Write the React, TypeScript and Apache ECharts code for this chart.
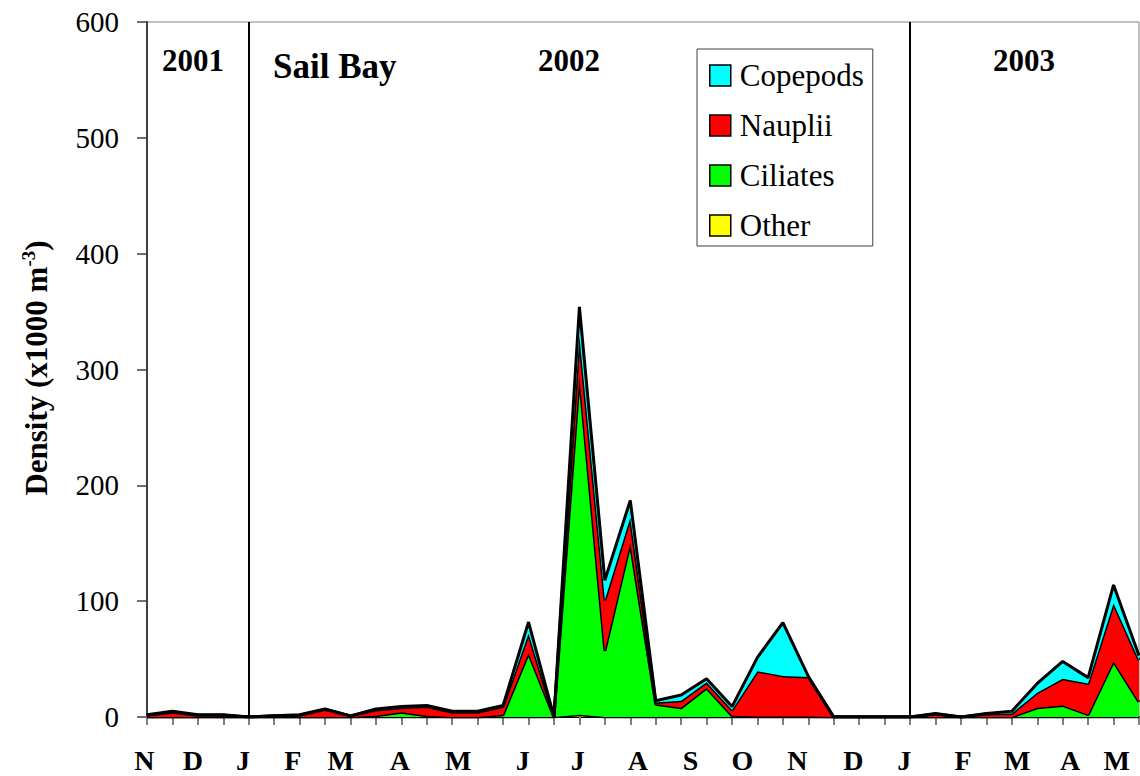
import React, { useEffect, useRef } from "react";
import * as echarts from "echarts";

// sampling occasions (Nov 2001 – May 2003, roughly fortnightly)
const samples = [
  "1", "2", "3", "4", "5", "6", "7", "8", "9", "10",
  "11", "12", "13", "14", "15", "16", "17", "18", "19", "20",
  "21", "22", "23", "24", "25", "26", "27", "28", "29", "30",
  "31", "32", "33", "34", "35", "36", "37", "38", "39", "40",
];

const other = [
  0, 0, 0, 0, 0, 0, 0, 0, 0, 0,
  0, 0, 0, 0, 0, 0, 0, 2, 0, 0,
  0, 0, 0, 0, 0, 0, 0, 0, 0, 0,
  0, 0, 0, 0, 0, 0, 0, 0, 0, 0,
];
const ciliates = [
  0, 0, 0, 0, 0, 0, 0, 0, 0, 1,
  4, 1, 0, 0, 2, 55, 0, 292, 57, 150,
  11, 8, 25, 1, 0.5, 0.5, 0.5, 0, 0, 0,
  0, 0, 0, 0, 0, 8, 10, 2, 48, 13,
];
const nauplii = [
  1.5, 4, 1.5, 1.5, 0, 1, 1.5, 6.5, 1, 5,
  4, 8, 4, 4, 7, 17, 0, 35, 44, 22,
  1.5, 6, 5, 5, 39, 35, 34, 0, 0, 0,
  0, 2.5, 0, 2.5, 3, 13, 23, 27, 50, 36,
];
const copepods = [
  0.5, 1, 0.5, 0.5, 0, 0, 0.5, 0.5, 0, 1,
  1, 1, 1, 1, 1, 10, 0, 25, 17, 15,
  1.5, 5, 3, 3, 12, 46, 0.5, 0, 0, 0,
  0, 0.5, 0, 0.5, 2, 8, 15, 5, 16, 4,
];

const seriesNames = ["Other", "Ciliates", "Nauplii", "Copepods"];
const seriesColors = ["#FFFF00", "#00FF00", "#FF0000", "#00FFFF"];
const legendOrder = ["Copepods", "Nauplii", "Ciliates", "Other"];

const yTicks = [0, 100, 200, 300, 400, 500, 600];

// month labels and their positions along the sample axis (in sample index units)
const monthLabels = ["N", "D", "J", "F", "M", "A", "M", "J", "J", "A", "S", "O", "N", "D", "J", "F", "M", "A", "M"];
const monthPos = [-0.1, 1.8, 3.77, 5.73, 7.62, 9.94, 12.24, 14.77, 16.93, 19.3, 21.37, 23.41, 25.57, 27.77, 29.77, 32.08, 34.21, 36.29, 38.12];

// year dividers (sample of January)
const yearDividers = ["5", "31"];

const FONT = '"Liberation Serif", "Times New Roman", serif';

export default function App() {
  const ref = useRef<HTMLDivElement>(null);

  useEffect(() => {
    if (!ref.current) return;
    const chart = echarts.init(ref.current, undefined, { renderer: "svg" });
    const values = [other, ciliates, nauplii, copepods];

    const series: any[] = seriesNames.map((name, i) => ({
      name,
      type: "line",
      stack: "total",
      data: values[i],
      symbol: "none",
      showSymbol: false,
      lineStyle: { color: "#000", width: 3 },
      itemStyle: { color: seriesColors[i] },
      areaStyle: { color: seriesColors[i], opacity: 1 },
      emphasis: { disabled: true },
      z: 2 + i,
    }));
    series[3].markLine = {
      silent: true,
      symbol: ["none", "none"],
      label: { show: false },
      lineStyle: { color: "#000", width: 2, type: "solid" },
      data: yearDividers.map((d) => ({ xAxis: d })),
      animation: false,
    };

    const option: any = {
      animation: false,
      grid: {
        left: 147,
        right: 1,
        top: 22,
        bottom: 59,
        show: true,
        borderColor: "#808080",
        borderWidth: 1,
        backgroundColor: "transparent",
      },
      xAxis: {
        type: "category",
        data: samples,
        boundaryGap: false,
        axisLine: { lineStyle: { color: "#000", width: 2 } },
        axisTick: { show: true, interval: 0, length: 8, lineStyle: { color: "#808080", width: 2 } },
        axisLabel: { show: false },
        splitLine: { show: false },
      },
      yAxis: {
        type: "value",
        min: yTicks[0],
        max: yTicks[yTicks.length - 1],
        interval: 100,
        axisLine: { show: true, lineStyle: { color: "#404040", width: 2 } },
        axisTick: { show: true, length: 10, inside: false, lineStyle: { color: "#404040", width: 1.5 } },
        axisLabel: { fontSize: 29, fontFamily: FONT, color: "#000", margin: 28 },
        splitLine: { show: false },
      },
      legend: {
        orient: "vertical",
        left: 697,
        top: 49,
        padding: [11, 9, 5, 12],
        itemGap: 19,
        itemWidth: 21,
        itemHeight: 21,
        borderColor: "#404040",
        borderWidth: 1,
        backgroundColor: "#fff",
        selectedMode: false,
        data: legendOrder.map((name) => ({ name, icon: "rect" })),
        itemStyle: { borderColor: "#000", borderWidth: 1.5 },
        textStyle: { fontSize: 31, fontFamily: FONT, color: "#000", lineHeight: 30, padding: [0, 0, 0, 4] },
      },
      series,
    };

    chart.setOption(option);

    const x0 = chart.convertToPixel({ xAxisIndex: 0 }, samples[0]) as number;
    const x1 = chart.convertToPixel({ xAxisIndex: 0 }, samples[samples.length - 1]) as number;
    const step = (x1 - x0) / (samples.length - 1);

    const graphics: any[] = monthLabels.map((m, i) => ({
      type: "text",
      x: x0 + monthPos[i] * step,
      y: 760,
      style: {
        text: m,
        fontSize: 28,
        fontWeight: "bold",
        fontFamily: FONT,
        fill: "#000",
        textAlign: "center",
        textVerticalAlign: "middle",
      },
      silent: true,
    }));

    const yearText = (text: string, x: number, y: number, size: number, align: string) => ({
      type: "text",
      x,
      y,
      style: {
        text,
        fontSize: size,
        fontWeight: "bold",
        fontFamily: FONT,
        fill: "#000",
        textAlign: align,
        textVerticalAlign: "middle",
      },
      silent: true,
      z: 20,
    });
    graphics.push(yearText("2001", 193, 60, 31, "center"));
    graphics.push(yearText("Sail Bay", 273, 66, 35, "left"));
    graphics.push(yearText("2002", 569, 60, 31, "center"));
    graphics.push(yearText("2003", 1024, 60, 31, "center"));

    graphics.push({
      type: "text",
      x: 36,
      y: 368,
      rotation: Math.PI / 2,
      style: {
        text: "{a|Density (x1000 m}{s|-3}{a|)}",
        textAlign: "center",
        textVerticalAlign: "middle",
        fill: "#000",
        rich: {
          a: { fontSize: 31, fontWeight: "bold", fontFamily: FONT, fill: "#000", color: "#000", lineHeight: 34 },
          s: { fontSize: 19, fontWeight: "bold", fontFamily: FONT, fill: "#000", color: "#000", verticalAlign: "top", lineHeight: 34 },
        },
      },
      silent: true,
    });

    chart.setOption({ graphic: graphics });

    return () => chart.dispose();
  }, []);

  return (
    <div
      ref={ref}
      style={{ position: "fixed", left: 0, top: 0, width: 1140, height: 776, background: "#fff" }}
    />
  );
}
